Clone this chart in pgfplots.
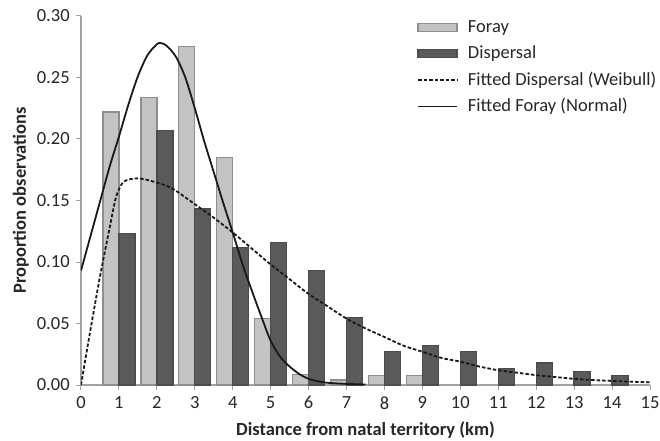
\documentclass[border=0pt]{standalone}
\usepackage{fontspec}
\setmainfont{Carlito}
\usepackage{pgfplots}
\pgfplotsset{compat=1.18}
\definecolor{forayfill}{HTML}{C3C3C3}
\definecolor{foraydraw}{HTML}{8E8E8E}
\definecolor{dispfill}{HTML}{5A5A5A}
\definecolor{dispdraw}{HTML}{4C4C4C}
\definecolor{axisgray}{HTML}{A3A3A3}
\newcommand{\myfont}{\fontsize{18.5bp}{22bp}\selectfont}
\pgfplotsset{
  barlegend/.style={legend image code/.code={\draw[##1,/tikz/.cd,line width=1.3bp] (0bp,-4bp) rectangle (39bp,4bp);}},
  linelegend/.style={legend image code/.code={\draw[##1] (0bp,0bp) -- (39bp,0bp);}}
}
\begin{document}
\myfont
\begin{tikzpicture}
\path[use as bounding box] (-81bp,-56bp) rectangle (579bp,385bp);
\begin{axis}[
  at={(0,0)}, anchor=south west,
  scale only axis, width=569bp, height=369bp,
  xmin=0, xmax=15, ymin=0, ymax=0.30,
  axis x line=bottom, axis y line=left,
  axis line style={-, draw=axisgray, line width=1.3bp},
  xtick={0,1,2,3,4,5,6,7,8,9,10,11,12,13,14,15},
  ytick={0,0.05,0.1,0.15,0.2,0.25,0.3},
  tick style={draw=axisgray, line width=1bp},
  tick align=outside, major tick length=5bp,
  /pgf/number format/assume math mode=true,
  yticklabel style={/pgf/number format/.cd, fixed, fixed zerofill, precision=2},
  tick label style={font=\myfont, text=black!85},
  every axis x label/.style={at={(axis description cs:0.5,-0.1355)}, anchor=base, font=\myfont\bfseries, text=black!85},
  every axis y label/.style={at={(axis description cs:-0.097,0.5)}, rotate=90, anchor=base, font=\myfont\bfseries, text=black!85},
  xlabel={Distance from natal territory (km)},
  ylabel={Proportion observations},
  legend style={at={(axis description cs:0.5905,0.994)}, anchor=north west, draw=none, fill=none,
    font=\myfont, text=black!85, row sep=6.5bp, inner sep=0pt,
    /tikz/every odd column/.append style={column sep=8bp}},
  legend cell align=left,
]
\addplot[ybar, bar width=16bp, bar shift=-8bp, fill=forayfill, draw=foraydraw, line width=1.3bp, barlegend]
  coordinates {(1,0.222) (2,0.234) (3,0.275) (4,0.185) (5,0.054) (6,0.0087) (7,0.004) (8,0.008) (9,0.008)};
\addlegendentry{Foray}
\addplot[ybar, bar width=16bp, bar shift=8bp, fill=dispfill, draw=dispdraw, line width=1.3bp, barlegend]
  coordinates {(1,0.123) (2,0.207) (3,0.143) (4,0.112) (5,0.116) (6,0.093) (7,0.055) (8,0.027) (9,0.032) (10,0.027) (11,0.0135) (12,0.0178) (13,0.011) (14,0.008)};
\addlegendentry{Dispersal}
\addplot[black!90, line width=1.8bp, dash pattern=on 3.5bp off 2bp, smooth, tension=0.5, linelegend]
  coordinates {(0,0) (0.25,0.045) (0.5,0.088) (0.75,0.127) (0.9,0.150) (1.0,0.159) (1.1,0.1645) (1.25,0.167) (1.5,0.168) (1.75,0.1667) (2.0,0.1645) (2.25,0.162) (2.5,0.158) (3.0,0.147) (3.5,0.136) (4.0,0.124) (4.5,0.111) (5.0,0.098) (5.5,0.086) (6.0,0.074) (6.5,0.064) (7.0,0.054) (7.5,0.046) (8.0,0.039) (8.5,0.032) (9.0,0.027) (9.5,0.022) (10,0.019) (10.5,0.015) (11,0.012) (11.5,0.010) (12,0.008) (12.5,0.0065) (13,0.005) (13.5,0.004) (14,0.0033) (14.5,0.0027) (15,0.0022)};
\addlegendentry{Fitted Dispersal (Weibull)}
\addplot[black!90, line width=1.8bp, smooth, tension=0.5, linelegend]
  coordinates {(0,0.093) (0.25,0.121) (0.5,0.149) (0.75,0.177) (1.0,0.202) (1.25,0.228) (1.5,0.251) (1.75,0.268) (2.0,0.277) (2.1,0.278) (2.25,0.276) (2.5,0.267) (2.75,0.250) (3.0,0.225) (3.25,0.198) (3.5,0.173) (3.75,0.148) (4.0,0.124) (4.25,0.099) (4.5,0.077) (4.75,0.056) (5.0,0.036) (5.25,0.023) (5.5,0.015) (5.75,0.009) (6.0,0.005) (6.25,0.003) (6.5,0.0018) (7.0,0.0009) (7.5,0.0004)};
\addlegendentry{Fitted Foray (Normal)}
\end{axis}
\end{tikzpicture}
\end{document}
